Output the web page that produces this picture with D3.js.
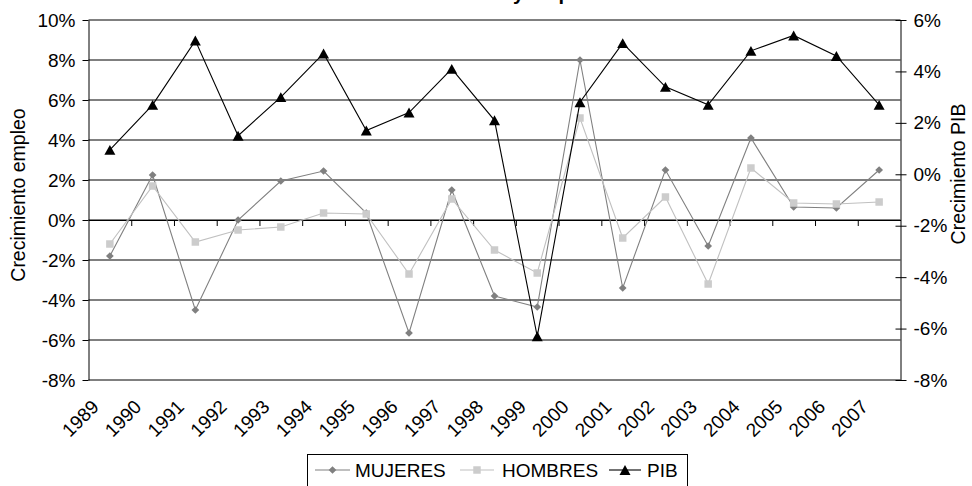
<!DOCTYPE html>
<html>
<head>
<meta charset="utf-8">
<script src="https://cdn.jsdelivr.net/npm/d3@7"></script>
<style>
  body { margin: 0; background: #fff; }
  svg { display: block; font-family: "Liberation Sans", Arial, sans-serif; }
</style>
</head>
<body>
<svg id="chart" width="972" height="486"></svg>
<script>
// Annual growth rates, 1989-2007 (percent)
const years = ["1989","1990","1991","1992","1993","1994","1995","1996","1997","1998",
               "1999","2000","2001","2002","2003","2004","2005","2006","2007"];
const mujeres = [-1.8, 2.25, -4.5, 0.0, 1.95, 2.45, 0.35, -5.65, 1.5, -3.8,
                 -4.35, 8.0, -3.4, 2.5, -1.3, 4.1, 0.65, 0.6, 2.5];
const hombres = [-1.2, 1.7, -1.1, -0.5, -0.35, 0.35, 0.3, -2.7, 1.05, -1.5,
                 -2.65, 5.1, -0.9, 1.15, -3.2, 2.6, 0.85, 0.8, 0.9];
const pib = [0.95, 2.7, 5.2, 1.5, 3.0, 4.7, 1.7, 2.4, 4.1, 2.1,
             -6.3, 2.8, 5.1, 3.4, 2.7, 4.8, 5.4, 4.6, 2.7];
const leftTicks = [-8, -6, -4, -2, 0, 2, 4, 6, 8, 10];
const rightTicks = [-8, -6, -4, -2, 0, 2, 4, 6];

const svg = d3.select("#chart");
const L = 88.5, R = 900.5, T = 20, B = 380;
const FONT = 19;

const x = d3.scaleBand().domain(years).range([L, R]).padding(0);
const xIdx = d3.scaleLinear().domain([0, years.length]).range([L, R]);
const yL = d3.scaleLinear().domain([-8, 10]).range([B, T]);
const yR = d3.scaleLinear().domain([-8, 6]).range([B, T]);
const cx = d => x(d) + x.bandwidth() / 2;
const pct = d => d + "%";

// Horizontal gridlines on the left scale
svg.append("g")
  .selectAll("line").data(leftTicks).join("line")
  .attr("x1", L).attr("x2", R)
  .attr("y1", d => yL(d)).attr("y2", d => yL(d))
  .attr("stroke", "#000").attr("stroke-width", 1);

// Left axis
const gL = svg.append("g").attr("transform", `translate(${L},0)`)
  .call(d3.axisLeft(yL).tickValues(leftTicks).tickFormat(pct).tickSize(6).tickSizeOuter(0).tickPadding(7));
gL.select(".domain").attr("stroke", "#000");
gL.selectAll("text").attr("font-size", FONT).attr("fill", "#000").attr("font-family", null);

// Right axis with crossing ticks
const gR = svg.append("g").attr("transform", `translate(${R},0)`)
  .call(d3.axisRight(yR).tickValues(rightTicks).tickFormat(pct).tickSize(6).tickSizeOuter(0).tickPadding(7));
gR.select(".domain").attr("stroke", "#000");
gR.selectAll(".tick line").attr("x1", -5);
gR.selectAll("text").attr("font-size", FONT).attr("fill", "#000").attr("font-family", null);

// Category axis line at zero, ticks between categories
const gX = svg.append("g").attr("transform", `translate(0,${yL(0)})`)
  .call(d3.axisBottom(xIdx).tickValues(d3.range(1, years.length)).tickFormat("").tickSize(6).tickSizeOuter(0));
gX.select(".domain").attr("stroke", "#000");

// Year labels along the bottom, rotated
const gXL = svg.append("g").attr("transform", `translate(0,${B})`)
  .call(d3.axisBottom(x).tickSize(0));
gXL.select(".domain").remove();
gXL.selectAll("text")
  .attr("font-size", FONT).attr("fill", "#000").attr("font-family", null)
  .attr("x", 0).attr("y", 0).attr("dy", 0)
  .attr("text-anchor", "end")
  .attr("transform", "translate(-10,28) rotate(-45)");

// Axis titles
svg.append("text")
  .attr("transform", "translate(25,195) rotate(-90)")
  .attr("text-anchor", "middle").attr("font-size", 19.5)
  .text("Crecimiento empleo");
svg.append("text")
  .attr("transform", "translate(965,174) rotate(-90)")
  .attr("text-anchor", "middle").attr("font-size", 19.5)
  .text("Crecimiento PIB");

// Chart title (mostly above the frame)
svg.append("text")
  .attr("x", 459).attr("y", 0)
  .attr("text-anchor", "middle").attr("font-size", 20).attr("font-weight", "bold")
  .text("Crecimiento del PIB y empleo");

// Marker shapes
const triangleType = {
  draw(ctx, size) {
    const w = Math.sqrt(size * 2.2), h = w * 0.9;
    ctx.moveTo(0, -h / 2); ctx.lineTo(w / 2, h / 2); ctx.lineTo(-w / 2, h / 2); ctx.closePath();
  }
};
const series = [
  { name: "MUJERES", values: mujeres, scale: yL, stroke: "#808080", fill: "#808080",
    sym: d3.symbol(d3.symbolSquare, 30), rot: 45 },
  { name: "HOMBRES", values: hombres, scale: yL, stroke: "#c0c0c0", fill: "#cccccc",
    sym: d3.symbol(d3.symbolSquare, 56), rot: 0 },
  { name: "PIB", values: pib, scale: yR, stroke: "#000", fill: "#000",
    sym: d3.symbol(triangleType, 55), rot: 0 }
];

series.forEach(s => {
  const line = d3.line().x((d, i) => cx(years[i])).y(d => s.scale(d));
  svg.append("path").datum(s.values)
    .attr("d", line).attr("fill", "none")
    .attr("stroke", s.stroke).attr("stroke-width", 1.1);
  svg.append("g").selectAll("path").data(s.values).join("path")
    .attr("d", s.sym)
    .attr("transform", (d, i) => `translate(${cx(years[i])},${s.scale(d)}) rotate(${s.rot})`)
    .attr("fill", s.fill);
});

// Legend
const lg = svg.append("g");
lg.append("rect").attr("x", 307.5).attr("y", 454.5).attr("width", 380).attr("height", 40)
  .attr("fill", "#fff").attr("stroke", "#000");
const legendPos = [
  { x1: 315, x2: 350, tx: 355 },
  { x1: 460, x2: 494, tx: 502 },
  { x1: 609, x2: 641, tx: 647 }
];
series.forEach((s, i) => {
  const p = legendPos[i], ly = 470;
  lg.append("line").attr("x1", p.x1).attr("x2", p.x2).attr("y1", ly).attr("y2", ly)
    .attr("stroke", s.stroke).attr("stroke-width", 1.1);
  lg.append("path").attr("d", s.sym)
    .attr("transform", `translate(${(p.x1 + p.x2) / 2},${ly}) rotate(${s.rot})`)
    .attr("fill", s.fill);
  lg.append("text").attr("x", p.tx).attr("y", ly + 6.5)
    .attr("font-size", FONT).text(s.name);
});
</script>
</body>
</html>
